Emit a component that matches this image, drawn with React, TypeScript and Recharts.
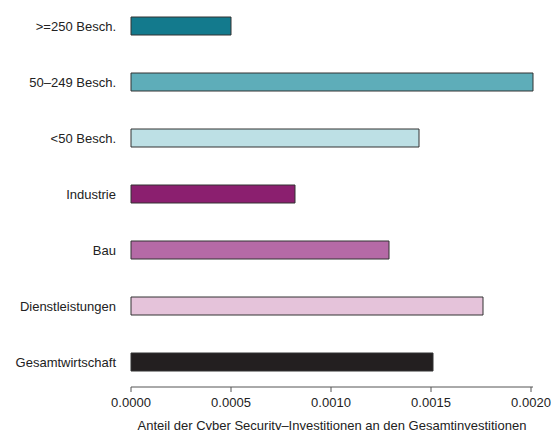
import { BarChart, Bar, XAxis, YAxis, Cell } from 'recharts';

const categories = [
    '>=250 Besch.',
    '50–249 Besch.',
    '<50 Besch.',
    'Industrie',
    'Bau',
    'Dienstleistungen',
    'Gesamtwirtschaft',
];

const shares = [0.0005, 0.00201, 0.00144, 0.00082, 0.00129, 0.00176, 0.00151];

const barColors = ['#137a8d', '#5eadb9', '#bde0e5', '#8b1f6f', '#b56aa6', '#e5c3da', '#231f20'];

const xTicks = [0, 0.0005, 0.001, 0.0015, 0.002];

const axisTitle = 'Anteil der Cyber Security–Investitionen an den Gesamtinvestitionen';

const data = categories.map((name, i) => ({ name, value: shares[i] }));

const font = '"Liberation Sans", Arial, Helvetica, sans-serif';

export default function App() {
    return (
        <div style={{ position: 'absolute', left: 0, top: 0, fontFamily: font }}>
            <BarChart
                layout="vertical"
                width={551}
                height={430}
                data={data}
                margin={{ top: 0, right: 18, left: 0, bottom: 0 }}
            >
                <XAxis
                    type="number"
                    domain={[0, 'dataMax']}
                    ticks={xTicks}
                    tickFormatter={(v: number) => v.toFixed(4)}
                    height={43}
                    tickSize={5}
                    tickMargin={6}
                    stroke="#555"
                    tick={{ fill: '#222', fontSize: 13, fontFamily: font }}
                    label={{
                        value: axisTitle,
                        position: 'insideBottom',
                        offset: 0.5,
                        fill: '#222',
                        fontSize: 13,
                        fontFamily: font,
                    }}
                />
                <YAxis
                    type="category"
                    dataKey="name"
                    width={131}
                    axisLine={false}
                    tickLine={false}
                    tickSize={0}
                    tickMargin={15}
                    padding={{ top: -2, bottom: -3 }}
                    tick={{ fill: '#222', fontSize: 13, fontFamily: font }}
                />
                <Bar dataKey="value" barSize={18} stroke="#333" strokeWidth={1} isAnimationActive={false}>
                    {data.map((entry, index) => (
                        <Cell key={`cell-${index}`} fill={barColors[index]} />
                    ))}
                </Bar>
            </BarChart>
        </div>
    );
}
